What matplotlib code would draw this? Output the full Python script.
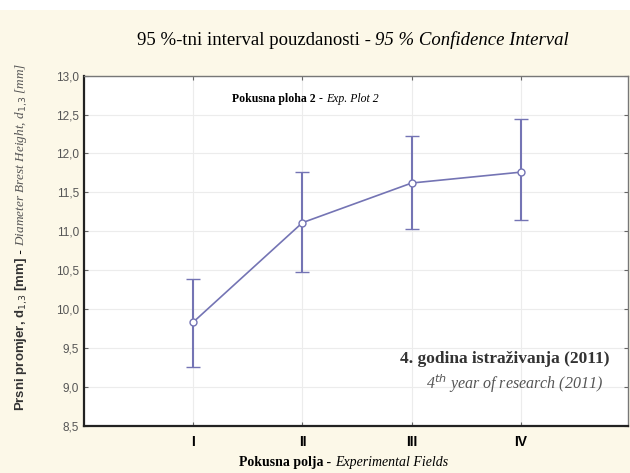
import matplotlib.pyplot as plt
import matplotlib.transforms as mtransforms
import numpy as np

# data
fields = ['I', 'II', 'III', 'IV']
means = [9.83, 11.11, 11.62, 11.76]
upper = [10.39, 11.76, 12.22, 12.44]
lower = [9.25, 10.48, 11.03, 11.14]
yticks = [8.5, 9.0, 9.5, 10.0, 10.5, 11.0, 11.5, 12.0, 12.5, 13.0]

bg = '#fcf8e8'
line_c = '#7474b4'

fig = plt.figure(figsize=(6.3, 4.73), dpi=100, facecolor=bg)
# white strip at top
fig.patches.append(plt.Rectangle((0, 0.978), 1, 0.022, transform=fig.transFigure,
                                 facecolor='white', edgecolor='none'))
ax = fig.add_axes([0.133, 0.100, 0.864, 0.740])

x = np.arange(1, len(fields) + 1)
m = np.array(means)
err = [m - np.array(lower), np.array(upper) - m]
ax.errorbar(x, m, yerr=err, color=line_c, lw=1.2, elinewidth=1.5, capsize=5, capthick=1.8,
            marker='o', ms=5, mfc='white', mec=line_c, mew=1, zorder=3)

ax.set_xlim(0, 4.98)
ax.set_ylim(8.5, 13.0)
ax.set_xticks(x)
ax.set_xticklabels(fields, fontfamily='Liberation Sans', fontweight='bold', fontsize=10)
ax.set_yticks(yticks)
ax.set_yticklabels([f'{v:.1f}'.replace('.', ',') for v in yticks],
                   fontfamily='Liberation Sans', fontsize=8.5, color='#555555')
ax.tick_params(direction='in', length=3, width=0.8, color='#666666', top=True, right=True)
ax.tick_params(axis='x', pad=7)
ax.grid(True, color='#ececec', lw=0.8)
ax.set_axisbelow(True)
for s in ['left', 'bottom']:
    ax.spines[s].set_linewidth(1.6)
    ax.spines[s].set_color('#222222')
for s in ['top', 'right']:
    ax.spines[s].set_linewidth(1.0)
    ax.spines[s].set_color('#777777')

serif = 'Liberation Serif'
r = fig.canvas.get_renderer()


def chain(parts, x0, y0, rotation=0):
    # draws text pieces one after another, centred as a whole
    texts = [fig.text(x0, y0, s, rotation=rotation, **kw) for s, kw in parts]
    sizes = [t.get_window_extent(r) for t in texts]
    px0, py0 = fig.transFigure.transform((x0, y0))
    ident = mtransforms.IdentityTransform()
    if rotation == 0:
        cur = px0 - sum(b.width for b in sizes) / 2
        for t, b in zip(texts, sizes):
            t.set_transform(ident)
            t.set_position((cur, py0))
            t.set_va('baseline')
            cur += b.width
    else:
        cur = py0 - sum(b.height for b in sizes) / 2
        for t, b in zip(texts, sizes):
            t.set_transform(ident)
            t.set_position((px0, cur))
            t.set_ha('center')
            t.set_va('bottom')
            cur += b.height
    return texts


chain([('95 %-tni interval pouzdanosti - ', dict(family=serif, fontsize=13.5)),
       ('95 % Confidence Interval', dict(family=serif, fontsize=13.5, style='italic'))],
      0.56, 0.905)

chain([('Pokusna polja', dict(family=serif, fontsize=10, weight='bold')),
       (' - ', dict(family=serif, fontsize=10)),
       ('Experimental Fields', dict(family=serif, fontsize=10, style='italic'))],
      0.545, 0.015)

chain([('Pokusna ploha 2', dict(family=serif, fontsize=8.5, weight='bold')),
       (' - ', dict(family=serif, fontsize=8.5)),
       ('Exp. Plot 2', dict(family=serif, fontsize=8.5, style='italic'))],
      0.485, 0.785)

chain([(r'Prsni promjer, d$_{1{,}3}$ [mm]', dict(family='Liberation Sans', fontsize=9.5,
                                                 weight='bold', color='#333333')),
       (' - ', dict(family=serif, fontsize=9.5)),
       (r'Diameter Brest Height, d$_{1{,}3}$ [mm]', dict(family=serif, fontsize=9.5,
                                                         style='italic', color='#555555'))],
      0.035, 0.50, rotation=90)

ax.text(0.965, 0.178, '4. godina istraživanja (2011)', transform=ax.transAxes,
        ha='right', va='baseline', family=serif, fontsize=12.5, weight='bold', color='#333333')
ax.text(0.955, 0.105, r'4$^{th}$ year of research (2011)', transform=ax.transAxes,
        ha='right', va='baseline', family=serif, fontsize=11.5, style='italic', color='#555555')

fig.savefig('out.png', dpi=100, facecolor=bg)
